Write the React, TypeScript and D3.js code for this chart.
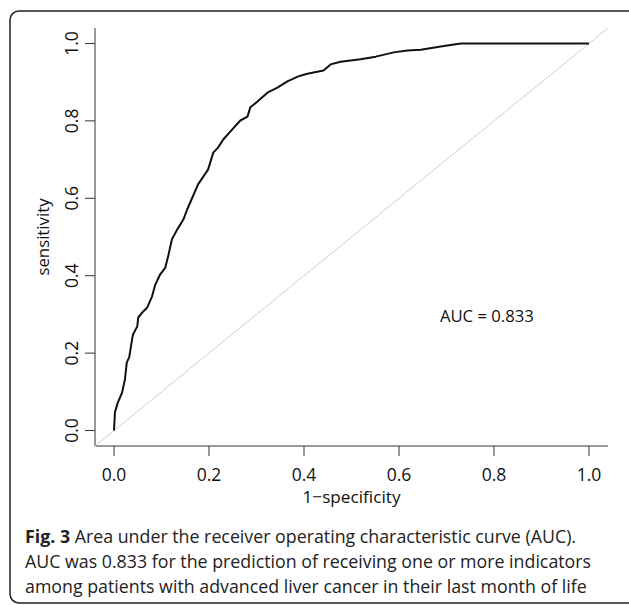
import React from 'react';
import * as d3 from 'd3';

const fpr = [0, 0.002, 0.008, 0.017, 0.023, 0.027, 0.032, 0.038, 0.040, 0.049, 0.051, 0.061, 0.070, 0.080, 0.087, 0.097, 0.108, 0.114, 0.122, 0.133, 0.146, 0.154, 0.165, 0.177, 0.188, 0.198, 0.209, 0.219, 0.230, 0.249, 0.266, 0.281, 0.287, 0.302, 0.323, 0.344, 0.365, 0.388, 0.407, 0.441, 0.456, 0.477, 0.519, 0.551, 0.589, 0.618, 0.646, 0.688, 0.730, 1.0];
const tpr = [0, 0.047, 0.072, 0.098, 0.132, 0.176, 0.189, 0.235, 0.248, 0.269, 0.292, 0.307, 0.318, 0.346, 0.377, 0.403, 0.421, 0.450, 0.494, 0.519, 0.545, 0.571, 0.602, 0.636, 0.656, 0.674, 0.718, 0.731, 0.752, 0.778, 0.801, 0.811, 0.835, 0.850, 0.873, 0.886, 0.902, 0.915, 0.922, 0.930, 0.946, 0.953, 0.959, 0.966, 0.977, 0.982, 0.984, 0.992, 1.0, 1.0];
const ticks = [0, 0.2, 0.4, 0.6, 0.8, 1.0];
const xLabel = '1\u2212specificity';
const yLabel = 'sensitivity';
const aucText = 'AUC = 0.833';
const captionBold = 'Fig. 3';
const captionLines = [
  ' Area under the receiver operating characteristic curve (AUC).',
  'AUC was 0.833 for the prediction of receiving one or more indicators',
  'among patients with advanced liver cancer in their last month of life',
];

const W = 629, H = 605;
const font = "'Open Sans', 'Noto Sans', sans-serif";

export default function App() {
  const x = d3.scaleLinear().domain([-0.04, 1.04]).range([95, 608]);
  const y = d3.scaleLinear().domain([-0.04, 1.04]).range([446, 28]);
  const pts: [number, number][] = fpr.map((f, i) => [f, tpr[i]]);
  const line = d3.line<[number, number]>().x(d => x(d[0])).y(d => y(d[1]));
  const fmt = d3.format('.1f');
  return (
    <svg width={W} height={H} style={{ position: 'absolute', left: 0, top: 0, background: '#fff' }} fontFamily={font}>
      <rect x={10} y={11} width={640} height={592} rx={9} fill="none" stroke="#222" strokeWidth={1.5} />
      <line x1={x(-0.04)} x2={x(-0.04)} y1={y(1.04)} y2={y(-0.04)} stroke="#333" strokeWidth={1} />
      <line x1={x(-0.04)} x2={x(1.04)} y1={y(-0.04)} y2={y(-0.04)} stroke="#333" strokeWidth={1} />
      {ticks.map(t => (
        <g key={'x' + t}>
          <line x1={x(t)} x2={x(t)} y1={y(-0.04)} y2={y(-0.04) + 10} stroke="#333" strokeWidth={1} />
          <text x={x(t)} y={480.5} textAnchor="middle" fontSize={17.5} fill="#111">{fmt(t)}</text>
        </g>
      ))}
      {ticks.map(t => (
        <g key={'y' + t}>
          <line x1={x(-0.04) - 10} x2={x(-0.04)} y1={y(t)} y2={y(t)} stroke="#333" strokeWidth={1} />
          <text transform={`translate(77.5,${y(t)}) rotate(-90)`} textAnchor="middle" fontSize={17.5} fill="#111">{fmt(t)}</text>
        </g>
      ))}
      <text x={(x(-0.04) + x(1.04)) / 2} y={503} textAnchor="middle" fontSize={17.2} fill="#111">{xLabel}</text>
      <text transform={`translate(49,${(y(-0.04) + y(1.04)) / 2}) rotate(-90)`} textAnchor="middle" fontSize={16.8} fill="#111">{yLabel}</text>
      <line x1={x(-0.04)} y1={y(-0.04)} x2={x(1.04)} y2={y(1.04)} stroke="#cfcfcf" strokeWidth={1} />
      <path d={line(pts) || ''} fill="none" stroke="#111" strokeWidth={2} strokeLinejoin="round" />
      <text x={x(0.785)} y={322} textAnchor="middle" fontSize={16.7} fill="#111">{aucText}</text>
      <text x={25} y={543} fontSize={17.8} fill="#222">
        <tspan fontWeight="bold">{captionBold}</tspan>
        <tspan>{captionLines[0]}</tspan>
      </text>
      <text x={25} y={568} fontSize={17.8} fill="#222">{captionLines[1]}</text>
      <text x={25} y={593} fontSize={17.8} fill="#222">{captionLines[2]}</text>
    </svg>
  );
}
